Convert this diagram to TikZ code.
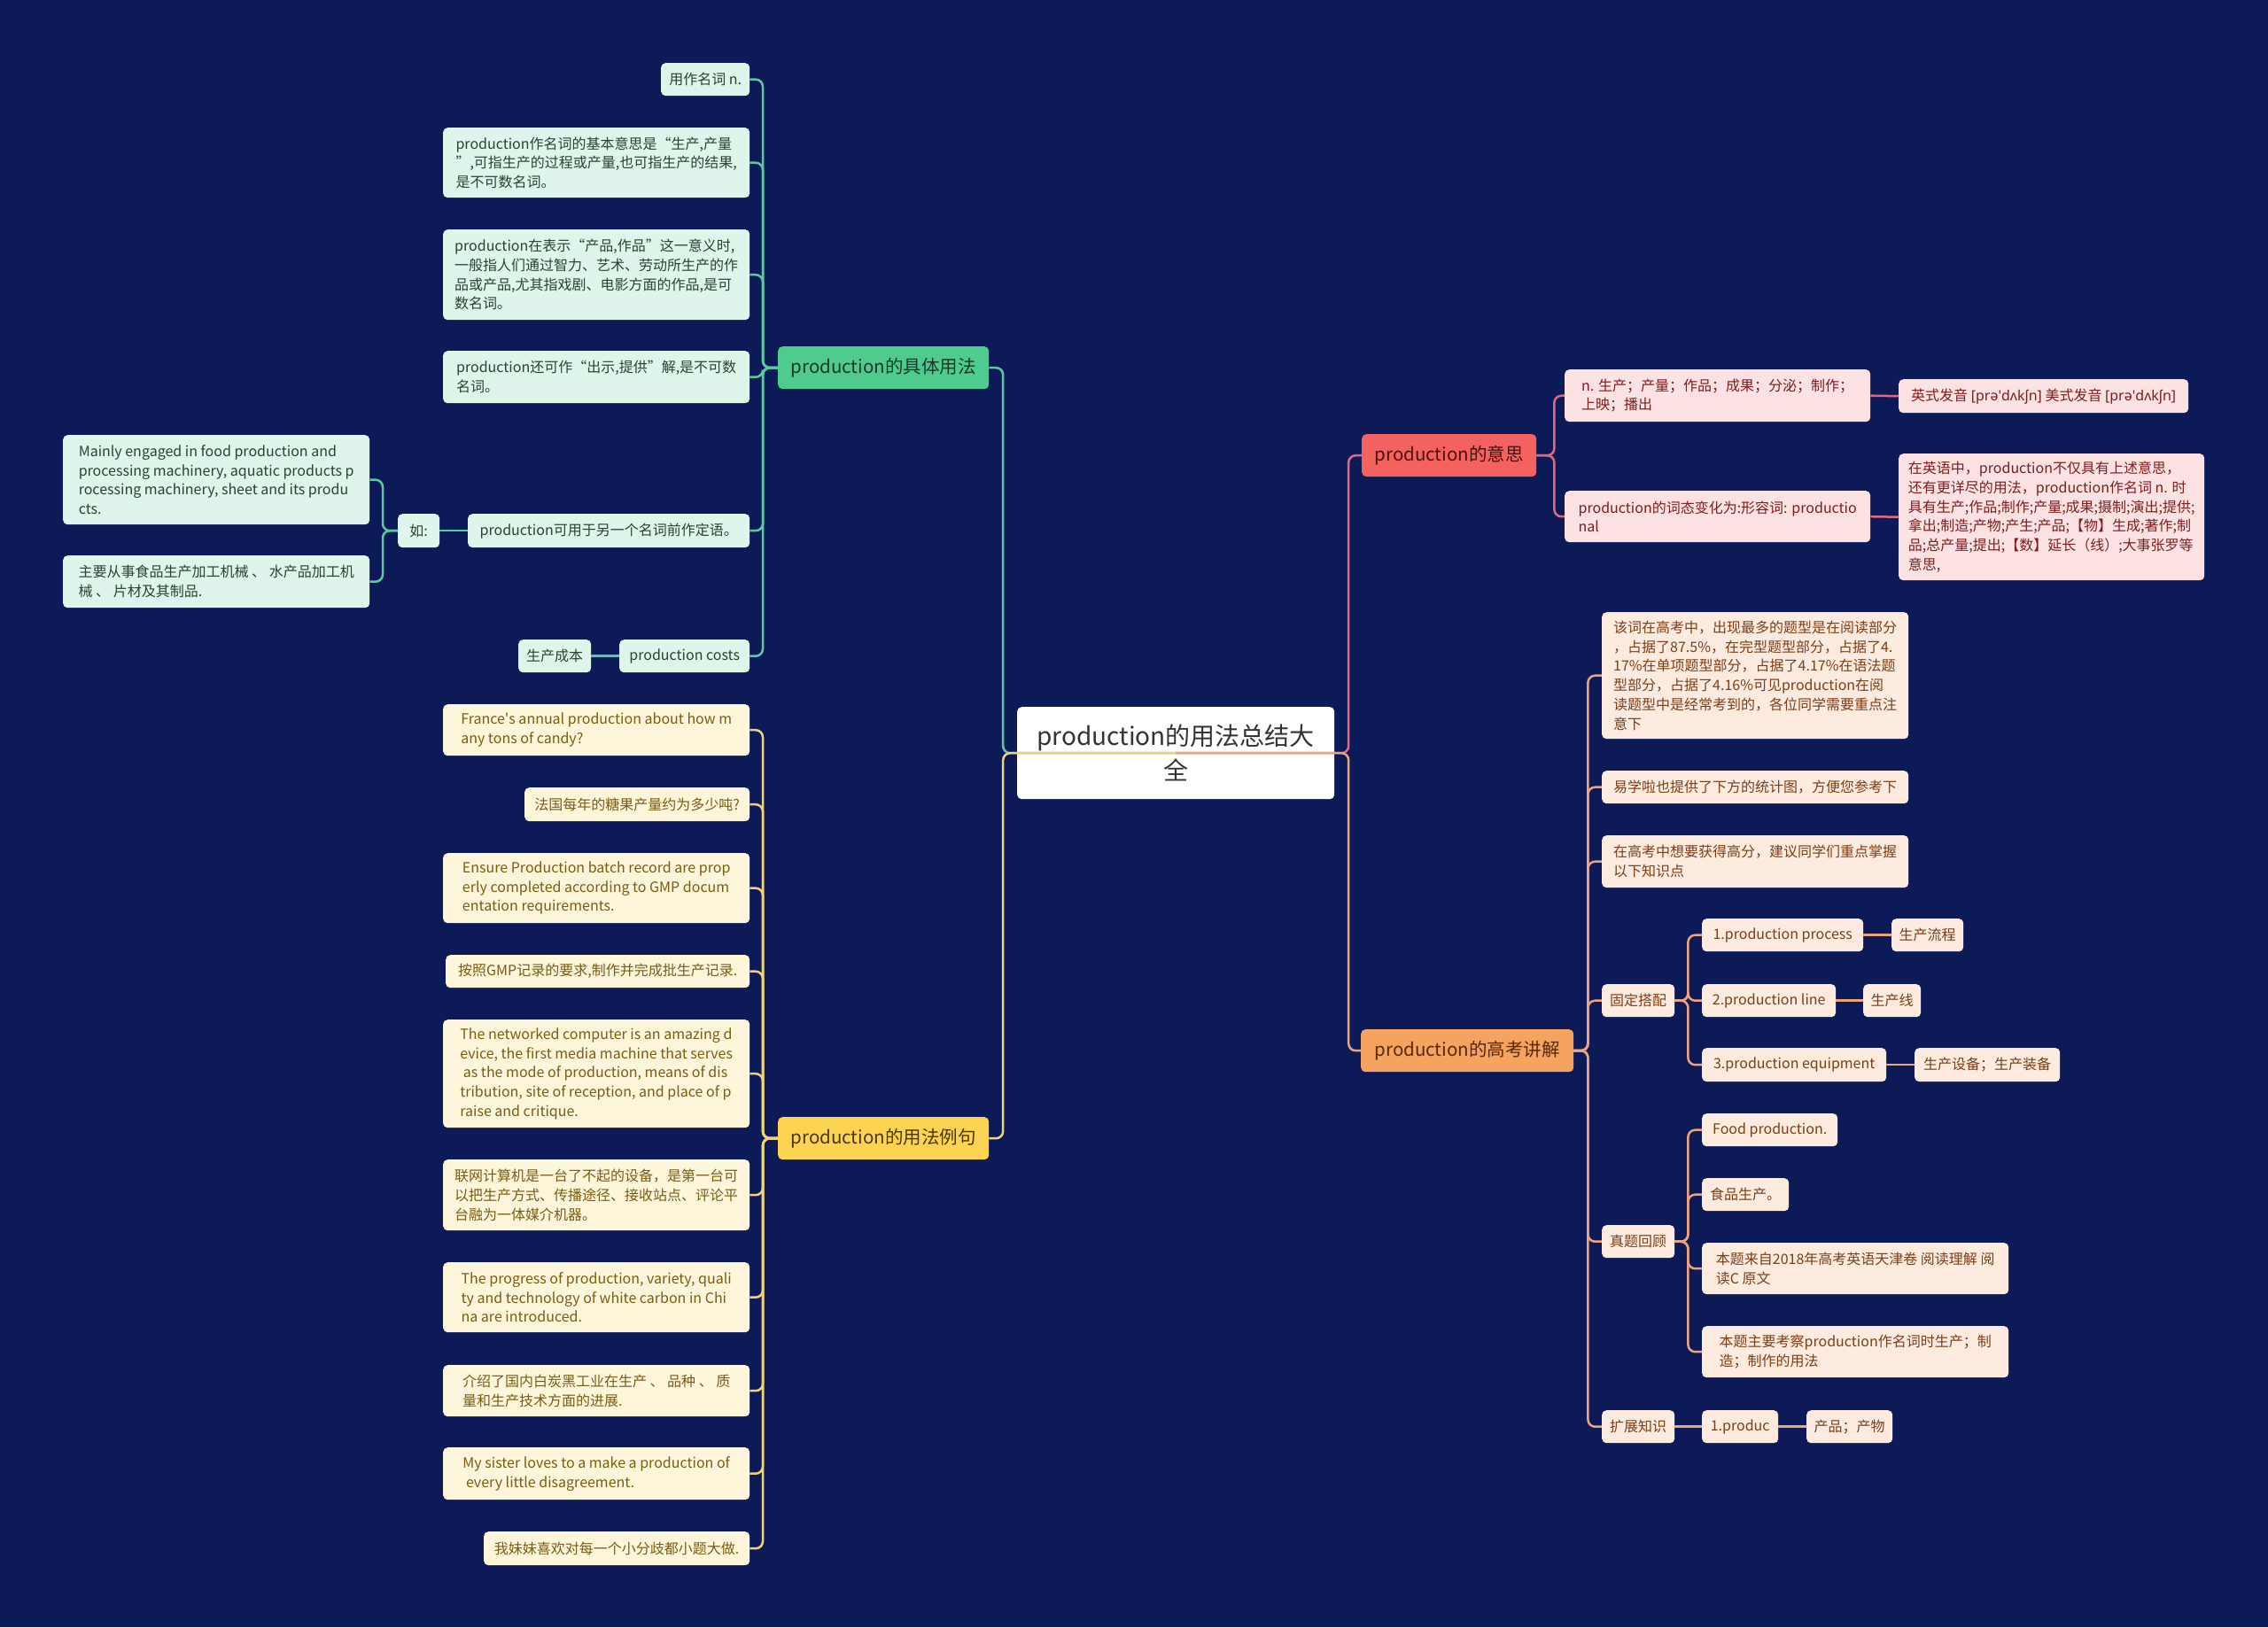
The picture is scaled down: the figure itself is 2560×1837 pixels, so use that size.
\documentclass[tikz,border=0pt]{standalone}
\usepackage{fontspec}
\setmainfont{Noto Sans CJK SC}
\newfontfamily\ipafont{Noto Sans}
\definecolor{bgc}{HTML}{0C1B57}
\definecolor{gLine}{HTML}{5CC9A3}
\definecolor{gTitle}{HTML}{4FCB8E}
\definecolor{gLeaf}{HTML}{DFF4EA}
\definecolor{gText}{HTML}{244536}
\definecolor{gTitleText}{HTML}{183828}
\definecolor{yLine}{HTML}{F0D27A}
\definecolor{yTitle}{HTML}{FDD452}
\definecolor{yLeaf}{HTML}{FEF6DA}
\definecolor{yText}{HTML}{7A5C14}
\definecolor{yTitleText}{HTML}{473705}
\definecolor{rLine}{HTML}{E3697A}
\definecolor{rTitle}{HTML}{F4625F}
\definecolor{rLeaf}{HTML}{FDE2E3}
\definecolor{rText}{HTML}{7F1D1D}
\definecolor{rTitleText}{HTML}{4A0E10}
\definecolor{oLine}{HTML}{EDA47C}
\definecolor{oTitle}{HTML}{F5A35E}
\definecolor{oLeaf}{HTML}{FDEBDF}
\definecolor{oText}{HTML}{7D3E16}
\definecolor{oTitleText}{HTML}{552A0A}
\newcommand\leaffont{\fontsize{16}{21.7}\selectfont}
\newcommand\branchfont{\fontsize{20.5}{24}\selectfont}
\newcommand\rootfont{\fontsize{28}{39}\selectfont}
\begin{document}
\begin{tikzpicture}[x=1pt,y=-1pt,
  bw/.style={minimum width=#1pt},
  bh/.style={minimum height=#1pt},
  box/.style={rounded corners=5pt, inner xsep=8pt, inner ysep=2pt, align=left, anchor=north west},
  leaf/.style={box, font=\leaffont},
  branch/.style={box, align=center, font=\branchfont},
  gleaf/.style={leaf, fill=gLeaf, text=gText},
  yleaf/.style={leaf, fill=yLeaf, text=yText},
  rleaf/.style={leaf, fill=rLeaf, text=rText},
  oleaf/.style={leaf, fill=oLeaf, text=oText},
  conn/.style={line width=2.5pt, rounded corners=8pt},
  gln/.style={conn, draw=gLine},
  yln/.style={conn, draw=yLine},
  rln/.style={conn, draw=rLine},
  oln/.style={conn, draw=oLine}]
\fill[bgc] (0,0) rectangle (2560,1837);
\useasboundingbox (0,0) rectangle (2560,1837);

% root
\node[box, align=center, fill=white, text=black!80, font=\rootfont, bw=358, bh=104] (M) at (1148,798) {production的用法总结大\\全};

% branch titles
\node[branch, fill=gTitle, text=gTitleText, bw=238, bh=48] (T1) at (878,391) {production的具体用法};
\node[branch, fill=yTitle, text=yTitleText, bw=238, bh=48] (T2) at (878,1261) {production的用法例句};
\node[branch, fill=rTitle, text=rTitleText, bw=197, bh=48] (T3) at (1537,490) {production的意思};
\node[branch, fill=oTitle, text=oTitleText, bw=240, bh=48] (T4) at (1536,1162) {production的高考讲解};

% green leaves
\node[gleaf, bw=100, bh=37] (g1) at (746,71) {用作名词 n.};
\node[gleaf, bw=346, bh=79] (g2) at (500,144) {production作名词的基本意思是“生产,产量\\”,可指生产的过程或产量,也可指生产的结果,\\是不可数名词。};
\node[gleaf, bw=346, bh=102] (g3) at (500,259) {production在表示“产品,作品”这一意义时,\\一般指人们通过智力、艺术、劳动所生产的作\\品或产品,尤其指戏剧、电影方面的作品,是可\\数名词。};
\node[gleaf, bw=346, bh=59] (g4) at (500,396) {production还可作“出示,提供”解,是不可数\\名词。};
\node[gleaf, bw=318, bh=38] (g5) at (528,580) {production可用于另一个名词前作定语。};
\node[gleaf, bw=47, bh=38] (g5a) at (449,580) {如:};
\node[gleaf, bw=346, bh=101] (g5a1) at (71,491) {Mainly engaged in food production and\\processing machinery, aquatic products p\\rocessing machinery, sheet and its produ\\cts.};
\node[gleaf, bw=346, bh=59] (g5a2) at (71,627) {主要从事食品生产加工机械 、 水产品加工机\\械 、 片材及其制品.};
\node[gleaf, bw=147, bh=37] (g6) at (699,722) {production costs};
\node[gleaf, bw=82, bh=37] (g6a) at (585,722) {生产成本};

% yellow leaves
\node[yleaf, bw=346, bh=58] (y1) at (500,795) {France\textquotesingle s annual production about how m\\any tons of candy?};
\node[yleaf, bw=254, bh=38] (y2) at (592,889) {法国每年的糖果产量约为多少吨?};
\node[yleaf, bw=346, bh=79] (y3) at (500,963) {Ensure Production batch record are prop\\erly completed according to GMP docum\\entation requirements.};
\node[yleaf, bw=343, bh=37] (y4) at (503,1078) {按照GMP记录的要求,制作并完成批生产记录.};
\node[yleaf, bw=346, bh=122] (y5) at (500,1151) {The networked computer is an amazing d\\evice, the first media machine that serves\\~as the mode of production, means of dis\\tribution, site of reception, and place of p\\raise and critique.};
\node[yleaf, bw=346, bh=80] (y6) at (500,1309) {联网计算机是一台了不起的设备，是第一台可\\以把生产方式、传播途径、接收站点、评论平\\台融为一体媒介机器。};
\node[yleaf, bw=346, bh=79] (y7) at (500,1425) {The progress of production, variety, quali\\ty and technology of white carbon in Chi\\na are introduced.};
\node[yleaf, bw=346, bh=58] (y8) at (500,1541) {介绍了国内白炭黑工业在生产 、 品种 、 质\\量和生产技术方面的进展.};
\node[yleaf, bw=346, bh=59] (y9) at (500,1634) {My sister loves to a make a production of\\~every little disagreement.};
\node[yleaf, bw=300, bh=38] (y10) at (546,1729) {我妹妹喜欢对每一个小分歧都小题大做.};

% red leaves
\node[rleaf, bw=345, bh=59] (r1) at (1766,417) {n. 生产；产量；作品；成果；分泌；制作；\\上映；播出};
\node[rleaf, bw=327, bh=38] (r1a) at (2143,428) {英式发音 {\ipafont [prə\textquotesingle dʌkʃn]} 美式发音 {\ipafont [prə\textquotesingle dʌkʃn]}};
\node[rleaf, bw=345, bh=58] (r2) at (1766,554) {production的词态变化为:形容词: productio\\nal};
\node[rleaf, bw=345, bh=143] (r2a) at (2143,512) {在英语中，production不仅具有上述意思，\\还有更详尽的用法，production作名词 n. 时\\具有生产;作品;制作;产量;成果;摄制;演出;提供;\\拿出;制造;产物;产生;产品;【物】生成;著作;制\\品;总产量;提出;【数】延长（线）;大事张罗等\\意思,};

% orange leaves
\node[oleaf, bw=346, bh=143] (o1) at (1808,691) {该词在高考中，出现最多的题型是在阅读部分\\，占据了87.5\%，在完型题型部分，占据了4.\\17\%在单项题型部分，占据了4.17\%在语法题\\型部分，占据了4.16\%可见production在阅\\读题型中是经常考到的，各位同学需要重点注\\意下};
\node[oleaf, bw=346, bh=37] (o2) at (1808,870) {易学啦也提供了下方的统计图，方便您参考下};
\node[oleaf, bw=346, bh=59] (o3) at (1808,943) {在高考中想要获得高分，建议同学们重点掌握\\以下知识点};
\node[oleaf, bw=82, bh=37] (o4) at (1808,1111) {固定搭配};
\node[oleaf, bw=182, bh=37] (o4a) at (1921,1037) {1.production process};
\node[oleaf, bw=81, bh=37] (o4a1) at (2135,1037) {生产流程};
\node[oleaf, bw=151, bh=37] (o4b) at (1921,1111) {2.production line};
\node[oleaf, bw=65, bh=37] (o4b1) at (2103,1111) {生产线};
\node[oleaf, bw=208, bh=38] (o4c) at (1921,1183) {3.production equipment};
\node[oleaf, bw=164, bh=38] (o4c1) at (2161,1183) {生产设备；生产装备};
\node[oleaf, bw=82, bh=37] (o5) at (1808,1383) {真题回顾};
\node[oleaf, bw=153, bh=37] (o5a) at (1921,1257) {Food production.};
\node[oleaf, bw=98, bh=37] (o5b) at (1921,1330) {食品生产。};
\node[oleaf, bw=346, bh=58] (o5c) at (1921,1403) {本题来自2018年高考英语天津卷 阅读理解 阅\\读C 原文};
\node[oleaf, bw=346, bh=58] (o5d) at (1921,1497) {本题主要考察production作名词时生产；制\\造；制作的用法};
\node[oleaf, bw=82, bh=37] (o6) at (1808,1592) {扩展知识};
\node[oleaf, bw=86, bh=37] (o6a) at (1921,1592) {1.produc};
\node[oleaf, bw=97, bh=37] (o6b) at (2039,1592) {产品；产物};

% root connectors (drawn over the root box)
\draw[gln] (M.center) -- ++(-195,0) |- (T1.east);
\draw[yln] (M.center) -- ++(-195,0) |- (T2.east);
\draw[rln] (M.center) -- ++(195,0) |- (T3.west);
\draw[oln] (M.center) -- ++(195,0) |- (T4.west);

% green connectors
\foreach \c in {g1,g2,g3,g4,g5,g6}
  \draw[gln] (T1.west) -- ++(-17,0) |- (\c.east);
\draw[gln] (g5.west) -- (g5a.east);
\foreach \c in {g5a1,g5a2}
  \draw[gln] (g5a.west) -- ++(-17,0) |- (\c.east);
\draw[gln] (g6.west) -- (g6a.east);

% yellow connectors
\foreach \c in {y1,y2,y3,y4,y5,y6,y7,y8,y9,y10}
  \draw[yln] (T2.west) -- ++(-17,0) |- (\c.east);

% red connectors
\foreach \c in {r1,r2}
  \draw[rln] (T3.east) -- ++(20,0) |- (\c.west);
\draw[rln] (r1.east) -- (r1a.west);
\draw[rln] (r2.east) -- (r2a.west);

% orange connectors
\foreach \c in {o1,o2,o3,o4,o5,o6}
  \draw[oln] (T4.east) -- ++(16,0) |- (\c.west);
\foreach \c in {o4a,o4b,o4c}
  \draw[oln] (o4.east) -- ++(15,0) |- (\c.west);
\draw[oln] (o4a.east) -- (o4a1.west);
\draw[oln] (o4b.east) -- (o4b1.west);
\draw[oln] (o4c.east) -- (o4c1.west);
\foreach \c in {o5a,o5b,o5c,o5d}
  \draw[oln] (o5.east) -- ++(15,0) |- (\c.west);
\draw[oln] (o6.east) -- (o6a.west);
\draw[oln] (o6a.east) -- (o6b.west);
\end{tikzpicture}
\end{document}
